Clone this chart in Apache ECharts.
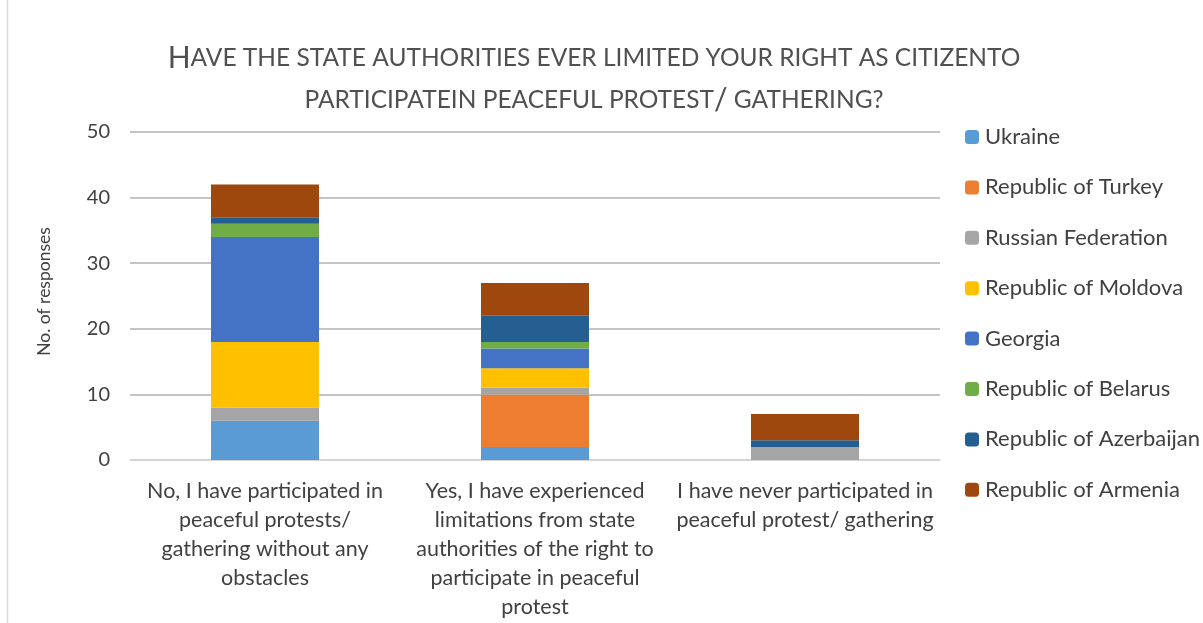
<!DOCTYPE html>
<html>
<head>
<meta charset="utf-8">
<script src="https://cdn.jsdelivr.net/npm/echarts@6/dist/echarts.min.js"></script>
<style>
  html, body { margin: 0; padding: 0; background: #fff; }
  #chart { width: 1203px; height: 623px; }
</style>
</head>
<body>
<div id="chart"></div>
<script>
// categories and tick labels
var categories = [
  'No, I have participated in\npeaceful protests/\ngathering without any\nobstacles',
  'Yes, I have experienced\nlimitations from state\nauthorities of the right to\nparticipate in peaceful\nprotest',
  'I have never participated in\npeaceful protest/ gathering'
];
var countries = ['Ukraine', 'Republic of Turkey', 'Russian Federation', 'Republic of Moldova',
  'Georgia', 'Republic of Belarus', 'Republic of Azerbaijan', 'Republic of Armenia'];
var colors = ['#5B9BD5', '#ED7D31', '#A5A5A5', '#FFC000', '#4472C4', '#70AD47', '#255E91', '#9E480E'];

// responses per country, one value per category
var ukraine = [6, 2, 0];
var turkey = [0, 8, 0];
var russia = [2, 1, 2];
var moldova = [10, 3, 0];
var georgia = [16, 3, 0];
var belarus = [2, 1, 0];
var azerbaijan = [1, 4, 1];
var armenia = [5, 5, 4];
var values = [ukraine, turkey, russia, moldova, georgia, belarus, azerbaijan, armenia];

var font = 'Lato, "Open Sans", sans-serif';
var chart = echarts.init(document.getElementById('chart'));

chart.setOption({
  animation: false,
  title: {
    text: '{big|H}{small|AVE THE STATE AUTHORITIES EVER LIMITED YOUR RIGHT AS CITIZENTO}\n{small|PARTICIPATEIN PEACEFUL PROTEST}{big|/}{small| GATHERING?}',
    left: 589,
    top: 32,
    textAlign: 'center',
    textStyle: {
      fontWeight: 'normal',
      rich: {
        big: { fontSize: 30, fontWeight: 'normal', color: '#505050', fontFamily: font, lineHeight: 42 },
        small: { fontSize: 24.5, fontWeight: 'normal', color: '#505050', fontFamily: font, lineHeight: 42 }
      }
    }
  },
  legend: {
    orient: 'vertical',
    left: 960,
    top: 121,
    itemWidth: 14,
    itemHeight: 14,
    itemGap: 28.4,
    itemStyle: { borderWidth: 0 },
    textStyle: { fontSize: 22, color: '#404040', fontFamily: font, lineHeight: 22, padding: [0, 0, 0, 1] },
    data: countries
  },
  grid: { left: 130, right: 263, top: 132, bottom: 163 },
  xAxis: {
    type: 'category',
    data: categories,
    axisLine: { lineStyle: { color: '#d9d9d9', width: 1.5 } },
    axisTick: { show: false },
    axisLabel: { fontSize: 21.5, color: '#404040', fontFamily: font, lineHeight: 29, margin: 17, interval: 0 }
  },
  yAxis: {
    type: 'value',
    min: 0,
    max: 50,
    interval: 10,
    name: 'No. of responses',
    nameLocation: 'middle',
    nameGap: 77,
    nameTextStyle: { fontSize: 17.5, color: '#404040', fontFamily: font, padding: [0, 0, 0, 9] },
    axisLine: { show: false },
    axisTick: { show: false },
    axisLabel: { fontSize: 20, color: '#404040', fontFamily: font, margin: 20 },
    splitLine: { lineStyle: { color: '#b0b0b0', width: 1.5 } }
  },
  graphic: [{
    type: 'line',
    shape: { x1: 7.5, y1: 0, x2: 7.5, y2: 623 },
    style: { stroke: '#d9d9d9', lineWidth: 1.5 }
  }],
  series: countries.map(function (name, i) {
    return {
      name: name,
      type: 'bar',
      stack: 'total',
      barWidth: '40%',
      itemStyle: { color: colors[i] },
      data: values[i]
    };
  })
});
</script>
</body>
</html>
